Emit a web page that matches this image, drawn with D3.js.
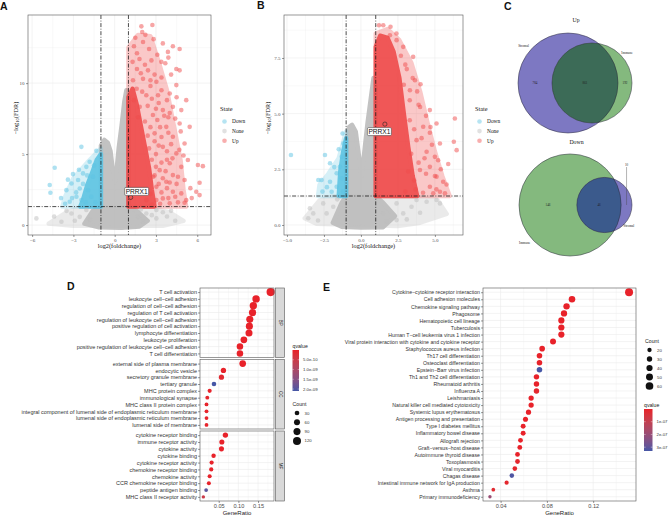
<!DOCTYPE html>
<html>
<head>
<meta charset="utf-8">
<script src="https://cdn.jsdelivr.net/npm/d3@7"></script>
<style>
    body { margin: 0; background: #fff; }
    svg { display: block; }
</style>
</head>
<body>
<div id="chart"></div>
<script>

// ---------------- data ----------------

const states = ["Down", "None", "Up"];
const fcCutoff = 1;        // |log2 fold change|
const fdrCutoff = 0.05;    // FDR

// volcano A : scattered genes [log2FC, -log10 FDR]
const aUp = [[1.94,14.0],[2.74,14.1],[2.23,13.4],[2.83,13.1],[2.06,12.9],[3.5,12.8],[4.23,12.6],[3.87,12.2],[4.72,12.4],[1.62,12.1],
    [2.67,11.6],[3.39,11.5],[4.48,11.0],[1.62,11.0],[2.42,10.9],[3.68,11.4],[4.72,10.9],[2.06,10.3],[3.03,10.1],[4.48,9.86],
    [1.33,10.2],[4.0,9.27],[3.15,9.15],[2.3,9.15],[5.2,8.8],[4.23,8.33],[3.5,8.1],[4.84,8.1],[1.82,8.33],[2.78,7.75],
    [4.72,7.16],[3.75,6.92],[5.45,6.92],[2.9,6.46],[4.23,6.22],[5.08,5.75],[3.5,5.51],[4.48,5.05],[5.32,4.58],[4.0,4.35],
    [6.05,4.23],[6.41,4.15],[4.84,4.1],[3.27,3.87],[4.23,3.52],[5.08,3.17],[6.17,2.98],[3.75,3.05],[3.03,2.7],[4.23,2.35],
    [5.93,2.35],[6.17,2.11],[4.84,2.23],[5.2,1.76],[4.0,1.53],[3.03,1.76],[2.3,1.76],[3.5,1.88],[5.08,1.57],[3.2,8.6],
    [2.6,9.8],[3.9,7.6],[3.3,6.9],[4.1,5.7],[3.0,5.0],[3.8,4.6],[2.8,3.4],[3.4,2.3],[4.5,2.9],[1.4,12.6],
    [1.5,13.2],[2.0,13.6],[2.5,12.4],[3.1,12.0],[1.8,11.7],[1.3,11.5],[2.2,11.3],[2.9,10.6],[3.4,10.4],[1.9,10.7],
    [2.6,10.2],[4.1,10.6],[3.9,11.8],[1.6,9.6],[2.0,9.4],[2.7,8.9],[3.4,9.5],[3.8,8.8],[4.5,9.0],[1.4,8.8],
    [2.4,8.4],[3.0,8.2],[4.0,7.9],[1.7,7.6],[2.2,7.3],[2.6,6.9],[3.1,7.4],[3.6,7.7],[4.4,7.5],[2.4,6.3],
    [3.4,6.2],[3.9,6.5],[4.8,6.6],[2.9,5.9],[2.5,5.4],[3.2,5.6],[3.8,5.2],[4.2,4.7],[2.7,4.6],[3.4,4.4],
    [4.7,5.3],[5.0,4.9],[3.0,4.1],[3.7,3.8],[2.9,3.5],[3.5,3.3],[4.0,3.0],[4.6,3.4],[3.2,2.9],[3.8,2.6],
    [4.4,2.0],[2.6,2.2],[3.3,1.5],[4.6,1.6],[5.5,2.6],[5.6,1.9],[2.7,1.45],[3.9,1.9]];
const aDown = [[-2.42,5.51],[-1.33,5.23],[-4.36,4.04],[-3.03,3.59],[-4.72,2.82],[-4.67,2.28],[-3.51,2.46],[-3.14,2.93],[-2.66,3.17],
    [-2.3,3.64],[-2.06,4.1],[-1.82,4.46],[-2.78,1.99],[-3.27,1.64],[-2.42,1.76],[-1.94,2.46],[-1.58,3.4],[-2.54,2.58],
    [-1.5,4.2],[-2.0,3.5],[-2.3,2.9],[-2.8,2.3],[-3.1,1.9],[-3.6,1.5],[-2.1,1.6],[-1.7,2.0],[-2.6,3.9],[-3.4,3.2],
    [-3.9,1.9],[-1.4,1.6]];
const aNone = [[-5.69,0.47],[-3.87,0.23],[-3.14,0.82],[-2.54,0.58],[-2.06,1.06],[1.69,0.58],[2.3,0.82],[3.03,0.47],[2.06,0.23],[3.03,1.06],
    [-4.4,0.6],[3.8,0.6],[4.4,0.3],[-2.9,0.3],[-1.8,0.4],[2.7,0.7],[3.5,0.9],[-3.5,1.0],[1.9,1.1],[4.1,1.0]];
// volcano A : outlines of the over-plotted (dense) gene clouds
const aUpCore = [[1.0,1.3],[1.0,9.0],[1.3,9.6],[1.6,8.5],[1.9,7.0],[2.2,5.5],[2.5,4.0],[2.7,2.5],[2.9,1.3]];
const aUpCloud = [[1.0,1.3],[1.0,12.5],[1.7,13.4],[2.6,13.3],[3.2,11.5],[3.8,9.5],[4.3,7.0],[4.8,4.5],[5.0,2.5],[5.2,1.3]];
const aDownCore = [[-1.0,1.3],[-1.0,5.0],[-1.3,4.6],[-1.6,3.8],[-2.0,2.8],[-2.3,1.8],[-2.5,1.3]];
const aDownCloud = [[-1.0,1.3],[-1.0,5.4],[-2.0,4.4],[-3.0,3.3],[-3.6,2.0],[-3.8,1.3]];
const aNoneCore = [[-2.2,0.1],[-1.6,1.0],[-1.0,1.3],[-1.0,5.6],[-0.75,6.0],[-0.5,5.8],[-0.3,5.2],[-0.15,4.0],[0.0,3.0],[0.15,4.0],
    [0.3,5.5],[0.5,7.0],[0.7,8.7],[0.85,9.5],[1.0,9.0],[1.0,1.3],[1.6,1.0],[2.4,0.3],[1.8,-0.1],[0.5,-0.2],[-1.2,-0.15]];
const aNoneCloud = [[-4.8,0.1],[-3.5,0.9],[-2.5,1.25],[2.5,1.25],[4.0,0.9],[5.0,0.3],[3.5,-0.05],[-3.0,-0.05]];
const aGene = {name: "PRRX1", fc: 1.16, fdr: 1.95};

// volcano B
const bUp = [[1.22,8.97],[1.51,8.97],[1.96,8.52],[2.41,8.3],[2.86,8.0],[3.53,7.55],[4.03,6.32],[3.65,6.5],[3.31,6.05],[4.66,5.16],
    [6.35,4.78],[5.11,4.56],[4.21,4.41],[4.66,4.14],[6.28,3.74],[6.47,3.36],[5.34,3.66],[3.76,3.81],[4.44,3.29],[5.0,3.06],
    [5.22,2.91],[5.9,2.74],[4.66,2.61],[3.99,2.47],[5.11,2.17],[5.56,1.94],[5.79,1.82],[4.66,1.72],[5.34,1.49],[5.68,1.42],
    [4.89,1.42],[3.0,7.2],[3.9,5.4],[3.3,4.7],[4.3,3.0],[3.6,2.0],
    [2.7,7.6],[3.1,7.0],[3.5,6.6],[3.8,6.0],[3.3,5.6],[4.0,5.3],[4.4,4.9],[3.6,4.3],[4.1,3.9],[4.8,3.6],
    [3.4,3.2],[3.9,2.8],[4.4,2.3],[5.0,2.2],[3.7,1.6],[4.2,1.45],[5.4,2.5],[4.7,4.4],[3.2,2.4],[2.9,6.3],
    [2.4,8.6],[2.0,8.9],[5.1,1.6],[3.0,1.5]];
const bDown = [[-4.73,3.14],[-2.43,3.14],[-2.09,2.77],[-2.88,2.02],[-2.66,2.02],[-2.09,1.94],[-1.98,1.49],[-1.64,2.32],[-1.42,2.61],
    [-1.3,3.06],[-1.19,3.66],[-1.24,4.11],[-1.64,1.72],[-1.3,2.1],[-1.8,2.6],[-2.3,1.7],[-1.5,3.4],[-1.2,1.5],[-2.6,1.5]];
const bNone = [[-3.45,0.75],[-3.56,0.3],[-3.22,0.52],[-2.55,0.97],[-2.32,0.52],[-1.87,0.82],[1.51,0.52],[2.41,0.97],[2.86,0.52],
    [3.42,0.82],[3.76,1.12],[4.44,1.04],[5.11,1.12],[2.41,0.22],[1.74,0.15],[5.34,0.97],[-2.9,0.2],[3.1,0.25],[4.0,0.55],[-1.6,1.15]];
const bUpCore = [[1.0,1.3],[1.0,8.0],[1.3,8.5],[1.8,8.4],[2.2,7.8],[2.6,6.6],[2.9,5.0],[3.2,3.5],[3.5,2.2],[3.8,1.3]];
const bUpCloud = [[1.0,1.3],[1.0,8.6],[1.8,8.8],[2.6,8.3],[3.4,7.3],[4.0,6.0],[4.5,4.6],[5.0,3.3],[5.5,2.2],[6.0,1.3]];
const bDownCore = [[-1.0,1.3],[-1.0,3.9],[-1.2,3.3],[-1.4,2.4],[-1.5,1.3]];
const bDownCloud = [[-1.0,1.3],[-1.0,4.2],[-1.5,3.0],[-2.2,2.3],[-2.8,1.8],[-2.9,1.3]];
const bNoneCore = [[-1.9,0.1],[-1.3,1.0],[-1.0,1.3],[-1.0,3.8],[-0.8,4.4],[-0.6,4.5],[-0.35,4.2],[-0.15,3.2],[0.05,2.2],[0.25,3.4],
    [0.45,4.6],[0.65,5.6],[0.85,6.6],[1.0,6.2],[1.0,1.3],[1.5,1.0],[2.3,0.4],[1.5,-0.1],[0,-0.12],[-1.3,-0.08]];
const bNoneCloud = [[-3.8,0.3],[-2.8,1.1],[-2.0,1.28],[3.5,1.28],[5.2,1.1],[5.8,0.5],[4.0,0.1],[2.5,-0.05],[-3.0,0.05]];
const bGene = {name: "PRRX1", fc: 1.62, fdr: 4.53};

// venn C : [only first set, both, only second set]
const vennUpSets = ["Stromal", "Immune"];
const vennUpCounts = [784, 861, 192];
const vennDownSets = ["Immune", "Stromal"];
const vennDownCounts = [146, 46, 10];

// GO enrichment D
const bpTerms = ["T cell activation", "leukocyte cell\u2212cell adhesion", "regulation of cell\u2212cell adhesion", "regulation of T cell activation",
    "regulation of leukocyte cell\u2212cell adhesion", "positive regulation of cell activation", "lymphocyte differentiation",
    "leukocyte proliferation", "positive regulation of leukocyte cell\u2212cell adhesion", "T cell differentiation"];
const bpRatio = [0.182, 0.145, 0.138, 0.136, 0.129, 0.128, 0.127, 0.114, 0.104, 0.104];
const bpCount = [127, 101, 97, 95, 90, 90, 89, 80, 73, 73];
const bpQvalue = [1e-20, 1e-16, 1e-15, 1e-15, 1e-14, 1e-14, 1e-14, 1e-13, 1e-12, 1e-12];

const ccTerms = ["external side of plasma membrane", "endocytic vesicle", "secretory granule membrane", "tertiary granule",
    "MHC protein complex", "immunological synapse", "MHC class II protein complex",
    "integral component of lumenal side of endoplasmic reticulum membrane", "lumenal side of endoplasmic reticulum membrane",
    "lumenal side of membrane"];
const ccRatio = [0.111, 0.062, 0.057, 0.038, 0.027, 0.021, 0.019, 0.019, 0.019, 0.019];
const ccCount = [78, 43, 40, 27, 19, 15, 13, 13, 13, 13];
const ccQvalue = [1e-15, 1e-11, 1e-10, 2.1e-9, 1e-11, 5e-11, 1e-11, 1e-11, 1e-11, 1e-11];

const mfTerms = ["cytokine receptor binding", "immune receptor activity", "cytokine activity", "cytokine binding",
    "cytokine receptor activity", "chemokine receptor binding", "chemokine activity", "CCR chemokine receptor binding",
    "peptide antigen binding", "MHC class II receptor activity"];
const mfRatio = [0.067, 0.058, 0.057, 0.037, 0.032, 0.031, 0.027, 0.025, 0.018, 0.011];
const mfCount = [44, 38, 38, 24, 21, 20, 18, 17, 12, 7];
const mfQvalue = [1e-14, 1e-13, 1e-12, 1e-12, 1e-11, 1e-11, 1e-11, 1e-11, 1.95e-9, 5e-10];

const goCountBreaks = [30, 60, 90, 120];
const goQvalueBreaks = [5e-10, 1e-9, 1.5e-9, 2e-9];
const goQvalueLabels = ["5.0e-10", "1.0e-09", "1.5e-09", "2.0e-09"];

// KEGG enrichment E
const keggTerms = ["Cytokine\u2212cytokine receptor interaction", "Cell adhesion molecules", "Chemokine signaling pathway", "Phagosome",
    "Hematopoietic cell lineage", "Tuberculosis", "Human T\u2212cell leukemia virus 1 infection",
    "Viral protein interaction with cytokine and cytokine receptor", "Staphylococcus aureus infection", "Th17 cell differentiation",
    "Osteoclast differentiation", "Epstein\u2212Barr virus infection", "Th1 and Th2 cell differentiation", "Rheumatoid arthritis",
    "Influenza A", "Leishmaniasis", "Natural killer cell mediated cytotoxicity", "Systemic lupus erythematosus",
    "Antigen processing and presentation", "Type I diabetes mellitus", "Inflammatory bowel disease", "Allograft rejection",
    "Graft\u2212versus\u2212host disease", "Autoimmune thyroid disease", "Toxoplasmosis", "Viral myocarditis", "Chagas disease",
    "Intestinal immune network for IgA production", "Asthma", "Primary immunodeficiency"];
const keggRatio = [0.151, 0.1017, 0.097, 0.0948, 0.0925, 0.0925, 0.0925, 0.0853, 0.0759, 0.0736,
    0.0736, 0.0736, 0.071, 0.071, 0.071, 0.0664, 0.0664, 0.0641, 0.0615, 0.0595,
    0.0595, 0.0572, 0.0566, 0.0546, 0.0546, 0.0523, 0.0497, 0.0452, 0.0337, 0.0308];
const keggCount = [65, 44, 42, 41, 40, 40, 40, 37, 33, 32, 32, 32, 31, 31, 31, 29, 29, 28, 27, 26,
    26, 25, 25, 24, 24, 23, 22, 19, 15, 13];
const keggQvalue = [1e-20, 1e-14, 1e-12, 1e-12, 1e-12, 1e-11, 1e-10, 1e-11, 1e-10, 1e-10,
    1e-9, 3.3e-7, 1e-10, 1e-9, 1e-8, 1e-9, 1e-9, 1e-9, 1e-10, 1e-9,
    1e-9, 1e-9, 1e-9, 1e-9, 1e-8, 1e-8, 3.2e-7, 1e-8, 2e-8, 2.0e-7];

const keggCountBreaks = [20, 30, 40, 50, 60];
const keggQvalueBreaks = [1e-7, 2e-7, 3e-7];
const keggQvalueLabels = ["1e-07", "2e-07", "3e-07"];


// ---------------- drawing ----------------

const serif = "'Liberation Serif', 'DejaVu Serif', serif";
const sans = "'Liberation Sans', Arial, sans-serif";
const stateColor = {Down: "#5EC4E3", None: "#BDBDBD", Up: "#EF4B4B"};
const gridColor = "#EBEBEB";
const borderColor = "#555";

const svg = d3.select("#chart").append("svg")
    .attr("width", 669)
    .attr("height", 516)
    .style("background", "#fff");

function panelLetter(t, x, y) {
    svg.append("text").attr("x", x).attr("y", y).text(t)
        .attr("font-family", sans).attr("font-weight", "bold").attr("font-size", 10.5).attr("fill", "#111");
}

function drawVolcano(cfg) {
    let x = d3.scaleLinear().domain(cfg.xDomain).range([cfg.left, cfg.right]);
    let y = d3.scaleLinear().domain(cfg.yDomain).range([cfg.bottom, cfg.top]);
    let g = svg.append("g");

    g.append("clipPath").attr("id", "clip-" + cfg.id)
        .append("rect").attr("x", cfg.left).attr("y", cfg.top)
        .attr("width", cfg.right - cfg.left).attr("height", cfg.bottom - cfg.top);

    // grid
    g.selectAll(".minor-x").data(cfg.xMinor).enter().append("line")
        .attr("x1", d => x(d)).attr("x2", d => x(d)).attr("y1", cfg.top).attr("y2", cfg.bottom)
        .attr("stroke", gridColor).attr("stroke-width", 0.3);
    g.selectAll(".minor-y").data(cfg.yMinor).enter().append("line")
        .attr("y1", d => y(d)).attr("y2", d => y(d)).attr("x1", cfg.left).attr("x2", cfg.right)
        .attr("stroke", gridColor).attr("stroke-width", 0.3);
    g.selectAll(".major-x").data(cfg.xTicks).enter().append("line")
        .attr("x1", d => x(d)).attr("x2", d => x(d)).attr("y1", cfg.top).attr("y2", cfg.bottom)
        .attr("stroke", gridColor).attr("stroke-width", 0.6);
    g.selectAll(".major-y").data(cfg.yTicks).enter().append("line")
        .attr("y1", d => y(d)).attr("y2", d => y(d)).attr("x1", cfg.left).attr("x2", cfg.right)
        .attr("stroke", gridColor).attr("stroke-width", 0.6);

    let plot = g.append("g").attr("clip-path", `url(#clip-${cfg.id})`);
    let outline = d3.line().x(d => x(d[0])).y(d => y(d[1])).curve(d3.curveLinearClosed);

    // dense clouds, then single genes
    cfg.clouds.forEach(c => {
        plot.append("g").attr("opacity", c.opacity)
            .append("path")
            .attr("d", outline(c.points))
            .attr("fill", stateColor[c.state])
            .attr("stroke", stateColor[c.state])
            .attr("stroke-width", 4.4)
            .attr("stroke-linejoin", "round");
    });
    cfg.genes.forEach(s => {
        plot.append("g").selectAll("circle").data(s.points).enter().append("circle")
            .attr("cx", d => x(d[0])).attr("cy", d => y(d[1])).attr("r", 2.3)
            .attr("fill", stateColor[s.state]).attr("fill-opacity", 0.5);
    });

    // cutoffs
    let dash = "4,1.6,0.9,1.6";
    [-fcCutoff, fcCutoff].forEach(v => {
        plot.append("line").attr("x1", x(v)).attr("x2", x(v)).attr("y1", cfg.top).attr("y2", cfg.bottom)
            .attr("stroke", "#111").attr("stroke-width", 0.75).attr("stroke-dasharray", dash);
    });
    plot.append("line").attr("x1", cfg.left).attr("x2", cfg.right)
        .attr("y1", y(-Math.log10(fdrCutoff))).attr("y2", y(-Math.log10(fdrCutoff)))
        .attr("stroke", "#111").attr("stroke-width", 0.75).attr("stroke-dasharray", dash);

    // highlighted gene
    let gx = x(cfg.gene.fc), gy = y(cfg.gene.fdr);
    plot.append("circle").attr("cx", gx).attr("cy", gy).attr("r", 2.1)
        .attr("fill", "none").attr("stroke", "#222").attr("stroke-width", 0.6);
    let lx = gx + cfg.labelOffset[0], ly = gy + cfg.labelOffset[1];
    g.append("rect").attr("x", lx - 12).attr("y", ly - 4).attr("width", 24).attr("height", 8)
        .attr("rx", 1.2).attr("fill", "#fff").attr("stroke", "#333").attr("stroke-width", 0.5);
    g.append("text").attr("x", lx).attr("y", ly + 2.3).attr("text-anchor", "middle")
        .attr("font-family", sans).attr("font-size", 6.6).attr("fill", "#111").text(cfg.gene.name);

    g.append("rect").attr("x", cfg.left).attr("y", cfg.top)
        .attr("width", cfg.right - cfg.left).attr("height", cfg.bottom - cfg.top)
        .attr("fill", "none").attr("stroke", borderColor).attr("stroke-width", 0.6);

    // axes
    let xAxis = g.append("g").attr("transform", `translate(0,${cfg.bottom})`)
        .call(d3.axisBottom(x).tickValues(cfg.xTicks).tickFormat(cfg.format).tickSize(2).tickPadding(1.5));
    let yAxis = g.append("g").attr("transform", `translate(${cfg.left},0)`)
        .call(d3.axisLeft(y).tickValues(cfg.yTicks).tickFormat(cfg.format).tickSize(2).tickPadding(1.5));
    [xAxis, yAxis].forEach(a => {
        a.select(".domain").remove();
        a.selectAll("line").attr("stroke", "#333").attr("stroke-width", 0.5);
        a.selectAll("text").attr("font-family", serif).attr("font-size", 5).attr("fill", "#4D4D4D");
    });

    g.append("text").attr("x", (cfg.left + cfg.right) / 2).attr("y", cfg.bottom + 13)
        .attr("text-anchor", "middle").attr("font-family", serif).attr("font-size", 6.3).attr("fill", "#111")
        .text("log2(foldchange)");
    let yt = g.append("text").attr("transform", `translate(${cfg.yTitleX},${cfg.yTitleY}) rotate(-90)`)
        .attr("text-anchor", "middle").attr("font-family", serif).attr("font-size", 6.3).attr("fill", "#111");
    yt.append("tspan").text("\u2212log");
    yt.append("tspan").attr("font-size", 4.6).attr("dy", 1.2).text("10");
    yt.append("tspan").attr("dy", -1.2).text("(FDR)");

    // legend
    let leg = g.append("g").attr("transform", `translate(${cfg.legendX},${cfg.legendY})`);
    leg.append("text").attr("x", 0).attr("y", 0).text("State")
        .attr("font-family", serif).attr("font-size", 6.3).attr("fill", "#111");
    leg.selectAll("circle").data(states).enter().append("circle")
        .attr("cx", 4.5).attr("cy", (d, i) => 10.5 + i * 9.6).attr("r", 2.3)
        .attr("fill", d => stateColor[d]).attr("fill-opacity", 0.45);
    leg.selectAll(".lab").data(states).enter().append("text")
        .attr("x", 12).attr("y", (d, i) => 12.4 + i * 9.6).text(d => d)
        .attr("font-family", serif).attr("font-size", 5.4).attr("fill", "#111");
}

panelLetter("A", 0, 10);
drawVolcano({
    id: "a", left: 28, right: 211, top: 15, bottom: 235,
    xDomain: [-6.3, 7.0], yDomain: [-0.7, 14.8],
    xTicks: [-6, -3, 0, 3, 6], xMinor: [-4.5, -1.5, 1.5, 4.5],
    yTicks: [0, 5, 10], yMinor: [2.5, 7.5, 12.5],
    format: d3.format("d"),
    clouds: [
        {state: "None", points: aNoneCloud, opacity: 0.3},
        {state: "None", points: aNoneCore, opacity: 0.92},
        {state: "Down", points: aDownCloud, opacity: 0.25},
        {state: "Down", points: aDownCore, opacity: 0.9},
        {state: "Up", points: aUpCloud, opacity: 0.3},
        {state: "Up", points: aUpCore, opacity: 0.9}
    ],
    genes: [{state: "None", points: aNone}, {state: "Down", points: aDown}, {state: "Up", points: aUp}],
    gene: aGene, labelOffset: [6, -6],
    yTitleX: 18, yTitleY: 118,
    legendX: 220, legendY: 111
});

panelLetter("B", 257, 9);
drawVolcano({
    id: "b", left: 284, right: 463, top: 15, bottom: 235,
    xDomain: [-5.2, 6.9], yDomain: [-0.45, 9.43],
    xTicks: [-5, -2.5, 0, 2.5, 5], xMinor: [-3.75, -1.25, 1.25, 3.75, 6.25],
    yTicks: [0, 2.5, 5, 7.5], yMinor: [1.25, 3.75, 6.25, 8.75],
    format: d3.format(".1f"),
    clouds: [
        {state: "None", points: bNoneCloud, opacity: 0.3},
        {state: "None", points: bNoneCore, opacity: 0.92},
        {state: "Down", points: bDownCloud, opacity: 0.25},
        {state: "Down", points: bDownCore, opacity: 0.9},
        {state: "Up", points: bUpCloud, opacity: 0.3},
        {state: "Up", points: bUpCore, opacity: 0.9}
    ],
    genes: [{state: "None", points: bNone}, {state: "Down", points: bDown}, {state: "Up", points: bUp}],
    gene: bGene, labelOffset: [-5.5, 7.5],
    yTitleX: 270, yTitleY: 118,
    legendX: 475, legendY: 111
});


// ---------------- venn ----------------

function lensArea(r1, r2, d) {
    if (d >= r1 + r2) return 0;
    if (d <= Math.abs(r1 - r2)) return Math.PI * Math.min(r1, r2) ** 2;
    let a = r1 * r1 * Math.acos((d * d + r1 * r1 - r2 * r2) / (2 * d * r1));
    let b = r2 * r2 * Math.acos((d * d + r2 * r2 - r1 * r1) / (2 * d * r2));
    let c = 0.5 * Math.sqrt((-d + r1 + r2) * (d + r1 - r2) * (d - r1 + r2) * (d + r1 + r2));
    return a + b - c;
}

function centreDistance(r1, r2, area) {
    let lo = Math.abs(r1 - r2), hi = r1 + r2;
    for (let i = 0; i < 60; i++) {
        let mid = (lo + hi) / 2;
        if (lensArea(r1, r2, mid) > area) lo = mid; else hi = mid;
    }
    return (lo + hi) / 2;
}

const vennColor = {Stromal: "#7D78C2", Immune: "#84B97E"};

function drawVenn(cfg) {
    let [only1, both, only2] = cfg.counts;
    let u1 = Math.sqrt(only1 + both), u2 = Math.sqrt(only2 + both);
    let du = centreDistance(u1, u2, Math.PI * both);
    let k = cfg.width / (u1 + Math.max(u1, du + u2));
    let r1 = u1 * k, r2 = u2 * k, d = du * k;
    let c1 = cfg.cx - cfg.width / 2 + r1, c2 = c1 + d, cy = cfg.cy;
    let g = svg.append("g");

    g.append("clipPath").attr("id", "vclip-" + cfg.id)
        .append("circle").attr("cx", c1).attr("cy", cy).attr("r", r1);
    g.append("circle").attr("cx", c1).attr("cy", cy).attr("r", r1).attr("fill", vennColor[cfg.sets[0]]);
    g.append("circle").attr("cx", c2).attr("cy", cy).attr("r", r2).attr("fill", vennColor[cfg.sets[1]]);
    g.append("circle").attr("cx", c2).attr("cy", cy).attr("r", r2).attr("fill", cfg.overlapColor)
        .attr("clip-path", `url(#vclip-${cfg.id})`);
    [[c1, r1], [c2, r2]].forEach(c => {
        g.append("circle").attr("cx", c[0]).attr("cy", cy).attr("r", c[1])
            .attr("fill", "none").attr("stroke", "#2a2a3a").attr("stroke-width", 0.5);
    });

    // region counts
    let left1 = c1 - r1, left2 = c2 - r2, right1 = c1 + r1, right2 = Math.max(c2 + r2, right1);
    let spots = [(left1 + left2) / 2, (left2 + Math.min(right1, c2 + r2)) / 2, (right1 + right2) / 2];
    let num = (t, x, y) => g.append("text").attr("x", x).attr("y", y + 1).attr("text-anchor", "middle")
        .attr("font-family", serif).attr("font-size", 3.2).attr("fill", "#222").text(t);
    num(only1, spots[0], cy);
    num(both, spots[1], cy);
    if (cfg.pointer) {
        g.append("line").attr("x1", spots[2]).attr("x2", spots[2]).attr("y1", cy).attr("y2", cy - cfg.pointer)
            .attr("stroke", "#444").attr("stroke-width", 0.4);
        num(only2, spots[2], cy - cfg.pointer - 2.5);
    } else {
        num(only2, spots[2], cy);
    }

    // set names
    [[c1, r1, cfg.nameAngles[0]], [c2, r2, cfg.nameAngles[1]]].forEach((c, i) => {
        let a = c[2] * Math.PI / 180;
        g.append("text").attr("x", c[0] + Math.cos(a) * c[1] * 1.16).attr("y", cy + Math.sin(a) * c[1] * 1.16 + 1)
            .attr("text-anchor", "middle").attr("font-family", serif).attr("font-size", 3.4).attr("fill", "#222")
            .text(cfg.sets[i]);
    });

    svg.append("text").attr("x", cfg.cx + 1).attr("y", cfg.titleY).attr("text-anchor", "middle")
        .attr("font-family", serif).attr("font-size", 5.8).attr("fill", "#111").text(cfg.title);
}

panelLetter("C", 504, 10);
drawVenn({id: "up", title: "Up", titleY: 22, sets: vennUpSets, counts: vennUpCounts,
    cx: 575, cy: 83, width: 114, overlapColor: "#3C6B57", nameAngles: [-140, -41]});
drawVenn({id: "down", title: "Down", titleY: 144, sets: vennDownSets, counts: vennDownCounts,
    cx: 575.5, cy: 205, width: 113, overlapColor: "#3B5A8C", nameAngles: [140, 40], pointer: 38});


// ---------------- enrichment dot plots ----------------

const qLow = "#E8222A", qHigh = "#4557A6";

function drawDotPlot(cfg) {
    let ratios = [].concat(...cfg.facets.map(f => f.ratio));
    let counts = [].concat(...cfg.facets.map(f => f.count));
    let qs = [].concat(...cfg.facets.map(f => f.q));
    let ext = d3.extent(ratios), pad = (ext[1] - ext[0]) * 0.05;

    let x = d3.scaleLinear().domain([ext[0] - pad, ext[1] + pad]).range([cfg.left, cfg.right]);
    let area = d3.scaleLinear().domain(d3.extent(counts)).range([cfg.rRange[0] ** 2, cfg.rRange[1] ** 2]);
    let radius = c => Math.sqrt(area(c));
    let color = d3.scaleSequential(d3.interpolateLab(qLow, qHigh)).domain(d3.extent(qs));
    let g = svg.append("g");

    cfg.facets.forEach(f => {
        let y = d3.scalePoint().domain(f.terms).range([f.top, f.bottom]).padding(0.6);

        cfg.xMinor.forEach(v => {
            g.append("line").attr("x1", x(v)).attr("x2", x(v)).attr("y1", f.top).attr("y2", f.bottom)
                .attr("stroke", gridColor).attr("stroke-width", 0.3);
        });
        cfg.xTicks.forEach(v => {
            g.append("line").attr("x1", x(v)).attr("x2", x(v)).attr("y1", f.top).attr("y2", f.bottom)
                .attr("stroke", gridColor).attr("stroke-width", 0.6);
        });
        g.selectAll(null).data(f.terms).enter().append("line")
            .attr("x1", cfg.left).attr("x2", cfg.right).attr("y1", d => y(d)).attr("y2", d => y(d))
            .attr("stroke", gridColor).attr("stroke-width", 0.6);

        g.selectAll(null).data(f.terms).enter().append("circle")
            .attr("cx", (d, i) => x(f.ratio[i])).attr("cy", d => y(d))
            .attr("r", (d, i) => radius(f.count[i]))
            .attr("fill", (d, i) => color(f.q[i]));

        g.append("rect").attr("x", cfg.left).attr("y", f.top)
            .attr("width", cfg.right - cfg.left).attr("height", f.bottom - f.top)
            .attr("fill", "none").attr("stroke", borderColor).attr("stroke-width", 0.6);

        let yAxis = g.append("g").attr("transform", `translate(${cfg.left},0)`)
            .call(d3.axisLeft(y).tickSize(2).tickPadding(1));
        yAxis.select(".domain").remove();
        yAxis.selectAll("line").attr("stroke", "#333").attr("stroke-width", 0.5);
        yAxis.selectAll("text").attr("font-family", sans).attr("font-size", cfg.labelSize).attr("fill", "#333");

        if (f.strip) {
            let sx = cfg.right + 1.5, sw = 9;
            g.append("rect").attr("x", sx).attr("y", f.top).attr("width", sw).attr("height", f.bottom - f.top)
                .attr("fill", "#D9D9D9").attr("stroke", borderColor).attr("stroke-width", 0.6);
            g.append("text").attr("transform", `translate(${sx + sw / 2 - 1.5},${(f.top + f.bottom) / 2}) rotate(90)`)
                .attr("text-anchor", "middle").attr("font-family", sans).attr("font-size", 4.6).attr("fill", "#1a1a1a")
                .text(f.strip);
        }
    });

    let last = cfg.facets[cfg.facets.length - 1];
    let xAxis = g.append("g").attr("transform", `translate(0,${last.bottom})`)
        .call(d3.axisBottom(x).tickValues(cfg.xTicks).tickFormat(cfg.format).tickSize(2).tickPadding(1));
    xAxis.select(".domain").remove();
    xAxis.selectAll("line").attr("stroke", "#333").attr("stroke-width", 0.5);
    xAxis.selectAll("text").attr("font-family", sans).attr("font-size", 5.6).attr("fill", "#4D4D4D");
    g.append("text").attr("x", (cfg.left + cfg.right) / 2).attr("y", last.bottom + 13.5)
        .attr("text-anchor", "middle").attr("font-family", sans).attr("font-size", 6).attr("fill", "#222")
        .text("GeneRatio");

    // qvalue colourbar
    let q = cfg.qLegend;
    let gradId = "grad-" + cfg.id;
    let grad = svg.append("defs").append("linearGradient").attr("id", gradId)
        .attr("x1", "0%").attr("y1", "0%").attr("x2", "0%").attr("y2", "100%");
    d3.range(0, 1.0001, 0.1).forEach(t => {
        grad.append("stop").attr("offset", (t * 100) + "%")
            .attr("stop-color", color(color.domain()[0] + t * (color.domain()[1] - color.domain()[0])));
    });
    let qy = d3.scaleLinear().domain(color.domain()).range([q.y, q.y + q.h]);
    g.append("text").attr("x", q.x).attr("y", q.y - 2.5).text("qvalue")
        .attr("font-family", sans).attr("font-size", 5.2).attr("fill", "#222");
    g.append("rect").attr("x", q.x).attr("y", q.y).attr("width", q.w).attr("height", q.h)
        .attr("fill", `url(#${gradId})`);
    cfg.qBreaks.forEach((v, i) => {
        g.append("line").attr("x1", q.x).attr("x2", q.x + q.w * 0.2).attr("y1", qy(v)).attr("y2", qy(v))
            .attr("stroke", "#fff").attr("stroke-width", 0.4);
        g.append("line").attr("x1", q.x + q.w * 0.8).attr("x2", q.x + q.w).attr("y1", qy(v)).attr("y2", qy(v))
            .attr("stroke", "#fff").attr("stroke-width", 0.4);
        g.append("text").attr("x", q.x + q.w + 4).attr("y", qy(v) + 1.5).text(cfg.qLabels[i])
            .attr("font-family", sans).attr("font-size", 4.3).attr("fill", "#333");
    });

    // count legend
    let c = cfg.countLegend;
    g.append("text").attr("x", c.x).attr("y", c.y - 4.5).text("Count")
        .attr("font-family", sans).attr("font-size", 5.2).attr("fill", "#222");
    cfg.countBreaks.forEach((v, i) => {
        g.append("circle").attr("cx", c.x + 4.5).attr("cy", c.y + 3 + i * c.step).attr("r", radius(v)).attr("fill", "#111");
        g.append("text").attr("x", c.x + 12).attr("y", c.y + 4.5 + i * c.step).text(v)
            .attr("font-family", sans).attr("font-size", 4.3).attr("fill", "#333");
    });
}

panelLetter("D", 67, 290);
drawDotPlot({
    id: "go", left: 200, right: 274, labelSize: 5.5,
    facets: [
        {terms: bpTerms, ratio: bpRatio, count: bpCount, q: bpQvalue, strip: "BP", top: 288, bottom: 357.5},
        {terms: ccTerms, ratio: ccRatio, count: ccCount, q: ccQvalue, strip: "CC", top: 359.5, bottom: 429},
        {terms: mfTerms, ratio: mfRatio, count: mfCount, q: mfQvalue, strip: "MF", top: 431, bottom: 501}
    ],
    xTicks: [0.05, 0.10, 0.15], xMinor: [0.025, 0.075, 0.125, 0.175], format: d3.format(".2f"),
    rRange: [1.7, 4.1],
    qBreaks: goQvalueBreaks, qLabels: goQvalueLabels, qLegend: {x: 292.5, y: 350, w: 6.5, h: 41},
    countBreaks: goCountBreaks, countLegend: {x: 292.5, y: 410, step: 9.3}
});

panelLetter("E", 323, 291);
drawDotPlot({
    id: "kegg", left: 483, right: 636, labelSize: 5.2,
    facets: [
        {terms: keggTerms, ratio: keggRatio, count: keggCount, q: keggQvalue, top: 288, bottom: 501}
    ],
    xTicks: [0.04, 0.08, 0.12], xMinor: [0.06, 0.10, 0.14], format: d3.format(".2f"),
    rRange: [1.7, 4.0],
    qBreaks: keggQvalueBreaks, qLabels: keggQvalueLabels, qLegend: {x: 644, y: 409, w: 8.5, h: 42},
    countBreaks: keggCountBreaks, countLegend: {x: 645, y: 347, step: 9}
});

</script>
</body>
</html>
